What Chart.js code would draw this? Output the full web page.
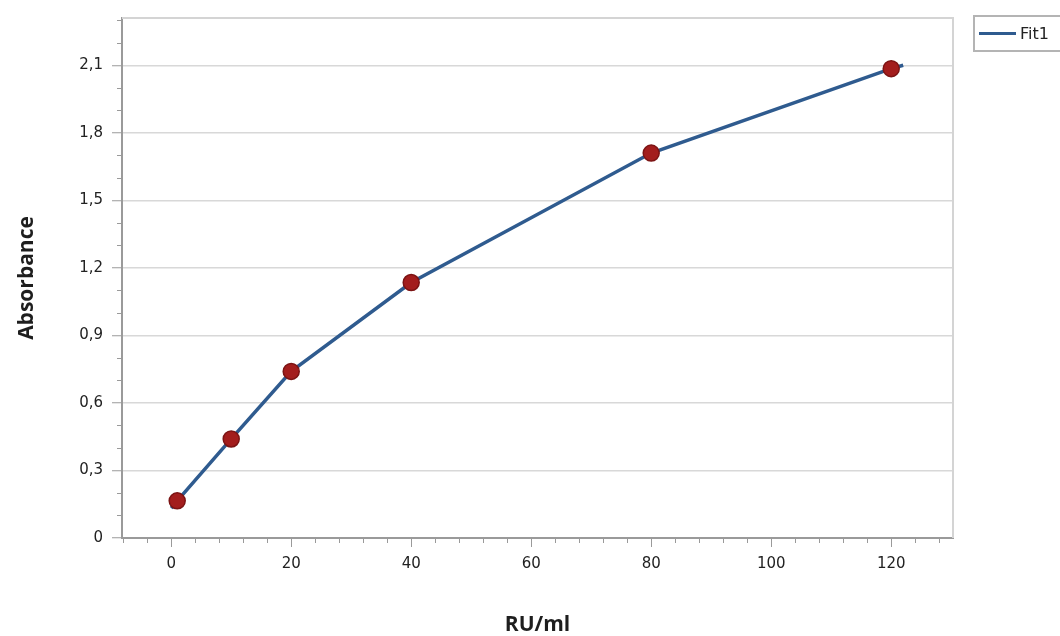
<!DOCTYPE html>
<html>
<head>
<meta charset="utf-8">
<script src="https://cdn.jsdelivr.net/npm/chart.js@4.4.0/dist/chart.umd.min.js"></script>
<style>
  html, body { margin: 0; padding: 0; background: #ffffff; }
  #wrap { position: relative; width: 1060px; height: 636px; }
  #legend { position: absolute; left: 973px; top: 15px; width: 100px; height: 37px;
    border: 2px solid #b4b4b4; box-sizing: border-box; font-family: "DejaVu Sans", sans-serif;
    font-size: 16px; color: #222; }
  #legend .sw { position: absolute; left: 4px; top: 15px; width: 37px; height: 3px; background: #2f5b8f; }
  #legend .tx { position: absolute; left: 45px; top: 7px; }
</style>
</head>
<body>
<div id="wrap">
  <canvas id="c" width="1060" height="636"></canvas>
  <div id="legend"><div class="sw"></div><div class="tx">Fit1</div></div>
</div>
<script>
// Measured standards (RU/ml vs absorbance)
const conc = [1, 10, 20, 40, 80, 120];
const absorbance = [0.165, 0.44, 0.74, 1.135, 1.71, 2.085];
// Fit curve
const fitX = [0, 1, 10, 20, 40, 80, 120, 122];
const fitY = [0.133, 0.165, 0.44, 0.74, 1.135, 1.71, 2.085, 2.1];
// Tick labels
const xTicks = [0, 20, 40, 60, 80, 100, 120];
const xTickLabels = ['0', '20', '40', '60', '80', '100', '120'];
const yTicks = [0, 0.3, 0.6, 0.9, 1.2, 1.5, 1.8, 2.1];
const yTickLabels = ['0', '0,3', '0,6', '0,9', '1,2', '1,5', '1,8', '2,1'];
const xMinor = [-8, -4, 4, 8, 12, 16, 24, 28, 32, 36, 44, 48, 52, 56, 64, 68, 72, 76, 84, 88, 92, 96, 104, 108, 112, 116, 124, 128];
const yMinor = [0.1, 0.2, 0.4, 0.5, 0.7, 0.8, 1.0, 1.1, 1.3, 1.4, 1.6, 1.7, 1.9, 2.0, 2.2, 2.3];

const minorTicks = {
  id: 'minorTicks',
  beforeDatasetsDraw(chart) {
    const { ctx, chartArea, scales } = chart;
    ctx.save();
    // plot frame (top & right)
    ctx.strokeStyle = '#d4d4d4';
    ctx.lineWidth = 2;
    ctx.beginPath();
    ctx.moveTo(chartArea.left, chartArea.top);
    ctx.lineTo(chartArea.right, chartArea.top);
    ctx.lineTo(chartArea.right, chartArea.bottom);
    ctx.stroke();
    ctx.strokeStyle = '#9a9a9a';
    ctx.lineWidth = 1;
    ctx.beginPath();
    xMinor.forEach(v => {
      const x = Math.round(scales.x.getPixelForValue(v)) + 0.5;
      ctx.moveTo(x, chartArea.bottom);
      ctx.lineTo(x, chartArea.bottom + 5);
    });
    yMinor.forEach(v => {
      const y = Math.round(scales.y.getPixelForValue(v)) + 0.5;
      ctx.moveTo(chartArea.left - 5, y);
      ctx.lineTo(chartArea.left, y);
    });
    ctx.stroke();
    ctx.restore();
  }
};

new Chart(document.getElementById('c'), {
  type: 'scatter',
  data: {
    datasets: [
      {
        label: 'Standards',
        data: conc.map((x, i) => ({ x, y: absorbance[i] })),
        backgroundColor: '#a31d1d',
        borderColor: '#7c1414',
        borderWidth: 1.5,
        pointRadius: 8,
        showLine: false
      },
      {
        label: 'Fit1',
        data: fitX.map((x, i) => ({ x, y: fitY[i] })),
        showLine: true,
        borderColor: '#2f5b8f',
        borderWidth: 3.5,
        pointRadius: 0,
        tension: 0
      }
    ]
  },
  options: {
    responsive: false,
    animation: false,
    layout: { padding: { top: 16, right: 107, left: 0, bottom: 0 } },
    plugins: { legend: { display: false }, tooltip: { enabled: false } },
    scales: {
      x: {
        type: 'linear',
        min: -8.2,
        max: 130.3,
        afterBuildTicks: s => { s.ticks = xTicks.map(v => ({ value: v })); },
        afterFit: s => { s.height = 98; },
        ticks: {
          callback: (v) => { const i = xTicks.indexOf(v); return i >= 0 ? xTickLabels[i] : ''; },
          font: { family: 'DejaVu Sans', size: 15 },
          color: '#222',
          padding: 8,
          maxRotation: 0
        },
        grid: { drawOnChartArea: false, drawTicks: true, tickLength: 9, tickColor: '#9a9a9a' },
        border: { color: '#9a9a9a', width: 2 },
        title: {
          display: true,
          text: 'RU/ml',
          font: { family: 'Open Sans', size: 21, weight: '700' },
          color: '#1e1e1e',
          padding: { top: 0, bottom: -2 }
        }
      },
      y: {
        type: 'linear',
        min: 0,
        max: 2.31,
        afterBuildTicks: s => { s.ticks = yTicks.map(v => ({ value: v })); },
        afterFit: s => { s.width = 122; },
        ticks: {
          callback: (v) => { const i = yTicks.findIndex(t => Math.abs(t - v) < 1e-9); return i >= 0 ? yTickLabels[i] : ''; },
          font: { family: 'DejaVu Sans', size: 15 },
          color: '#222',
          padding: 9
        },
        grid: { color: '#d8d8d8', lineWidth: 1.5, tickColor: '#9a9a9a', tickLength: 10, tickWidth: 1 },
        border: { color: '#9a9a9a', width: 2 },
        title: {
          display: true,
          text: 'Absorbance',
          font: { family: 'Open Sans', size: 21, weight: '700' },
          color: '#1e1e1e',
          padding: { top: 14, bottom: 0 }
        }
      }
    }
  },
  plugins: [minorTicks]
});
</script>
</body>
</html>
